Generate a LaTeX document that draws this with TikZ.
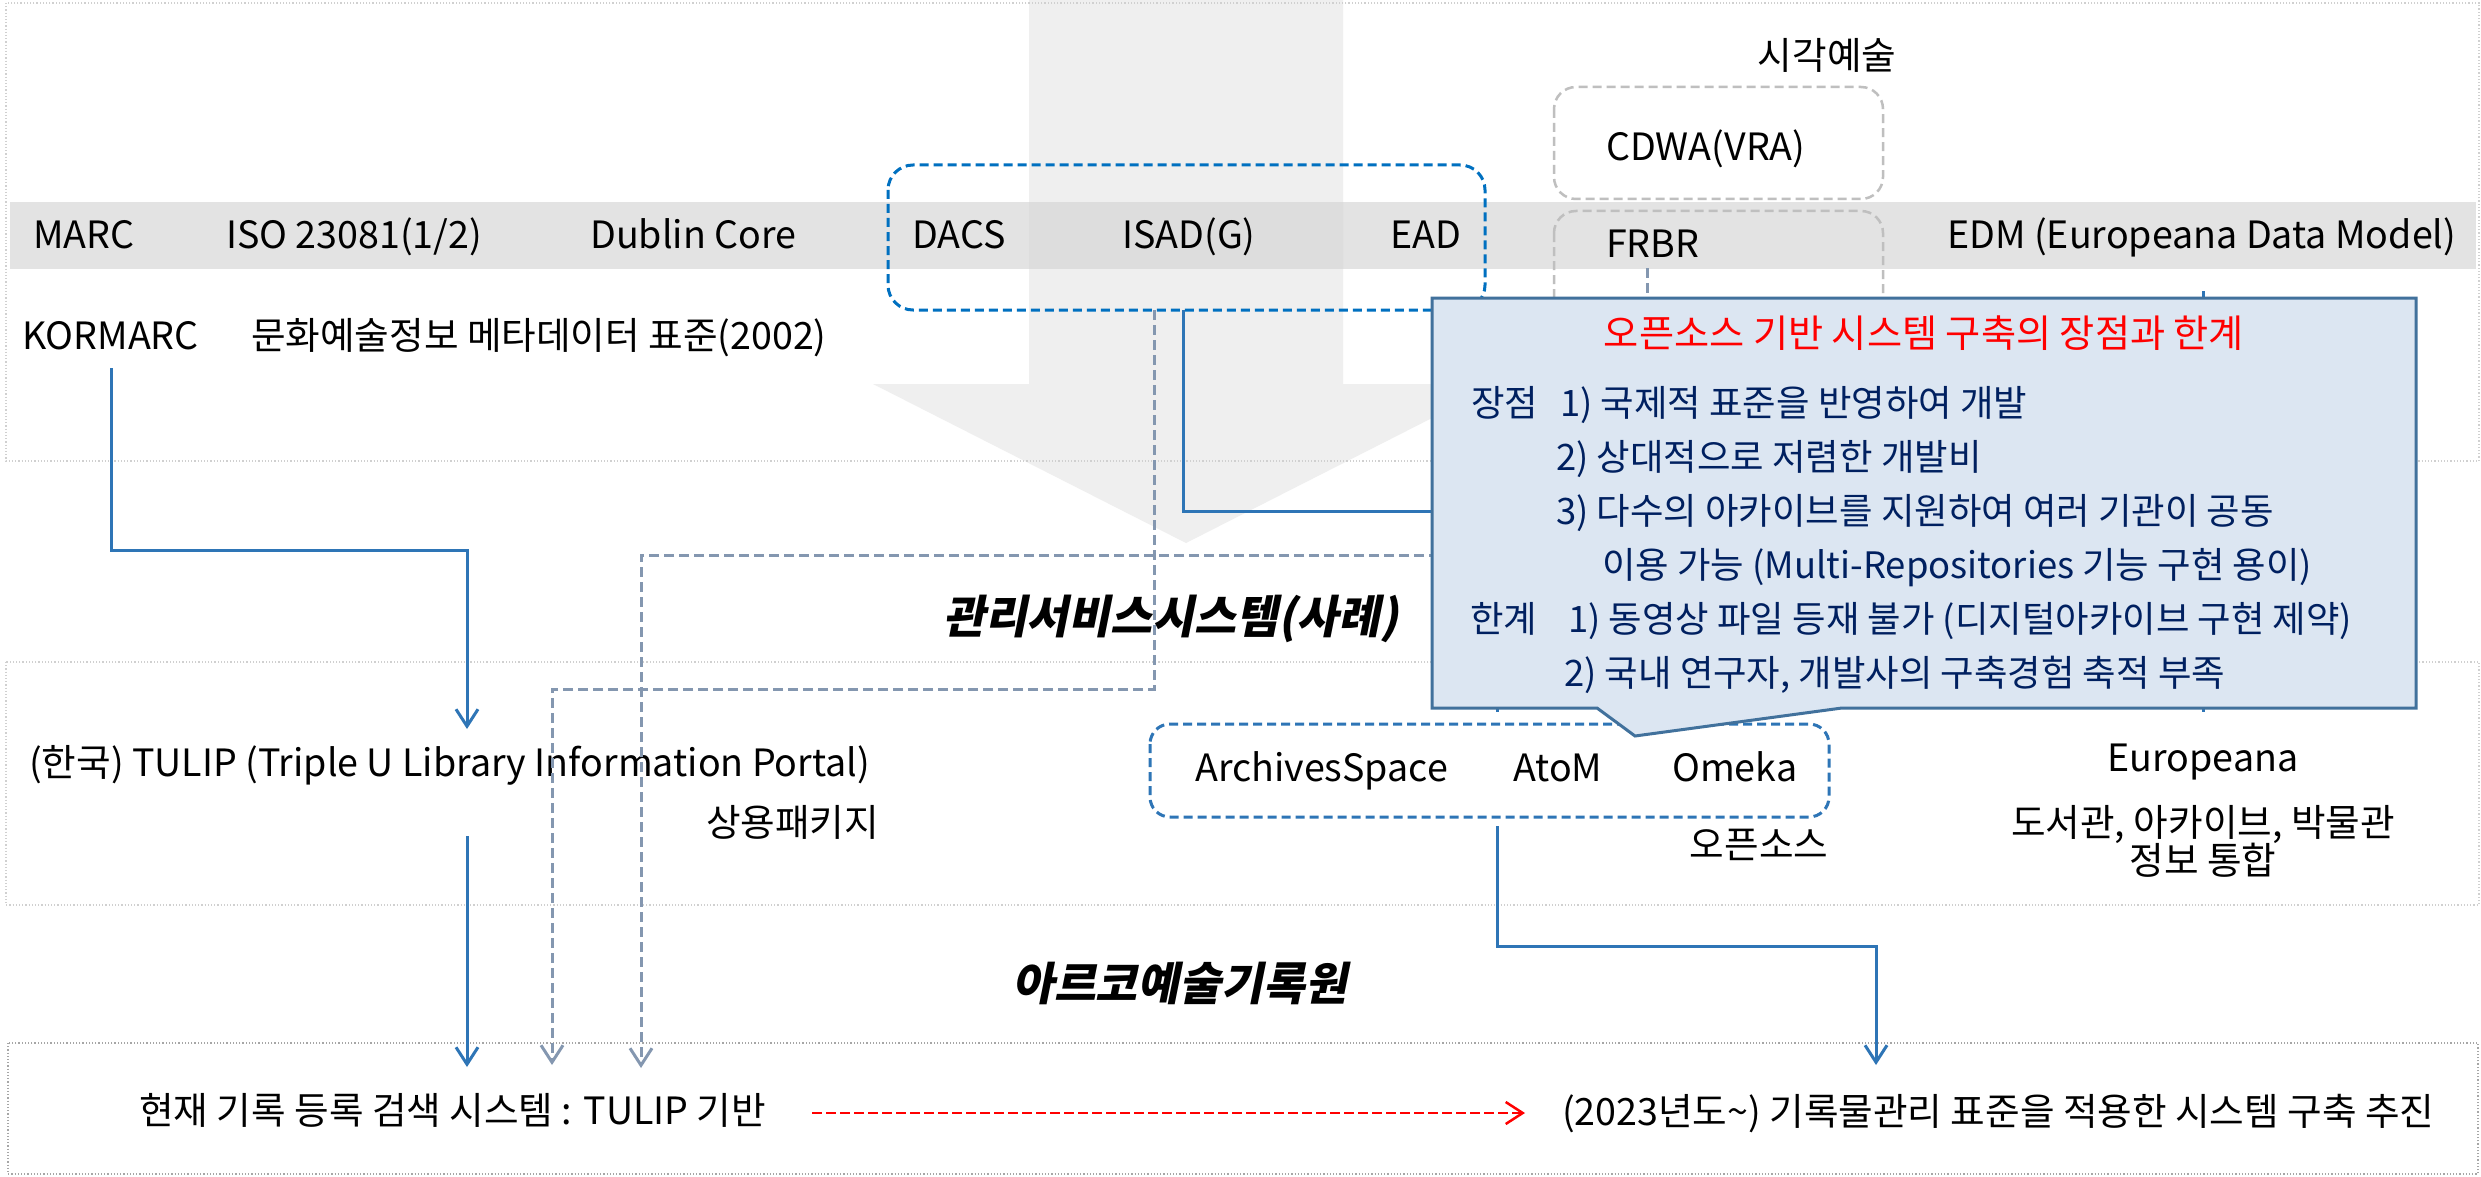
\documentclass[tikz,border=0pt]{standalone}
\usepackage{fontspec}
\setmainfont{Noto Sans CJK KR}
\newfontfamily\krslant{Noto Sans CJK KR}[FakeSlant=0.2]
\usetikzlibrary{arrows.meta}
\definecolor{lineblue}{HTML}{2E75B6}
\definecolor{boxblue}{HTML}{0070C0}
\definecolor{slate}{HTML}{8497B0}
\definecolor{boxgray}{HTML}{BFBFBF}
\definecolor{calloutfill}{HTML}{DCE6F2}
\definecolor{calloutline}{HTML}{41719C}
\definecolor{navy}{HTML}{002060}
\definecolor{arrowgray}{HTML}{EFEFEF}
\definecolor{bandgray}{HTML}{D4D4D4}
\definecolor{panelgray}{HTML}{D0D0D0}
\definecolor{panelgraydark}{HTML}{A6A6A6}
\tikzset{
  t/.style={inner sep=0pt, font=\fontsize{37.6}{44}\selectfont, text=black},
  ct/.style={inner sep=0pt, font=\fontsize{36.4}{42}\selectfont, text=navy},
  captxt/.style={inner sep=0pt, font=\krslant\bfseries\fontsize{45.5}{52}\selectfont, text=black},
  conn/.style={draw=lineblue, line width=3pt},
  dconn/.style={draw=slate, line width=3pt, dash pattern=on 10pt off 5pt},
  rconn/.style={draw=red, line width=2.5pt, dash pattern=on 10pt off 4pt},
  tip/.style={-{Straight Barb[length=17pt,width=22pt]}},
  panelline/.style={draw=panelgray, line width=1.2pt, dotted},
  bluebox/.style={draw=boxblue, line width=3pt, dash pattern=on 9pt off 5pt, rounded corners=25pt},
  graybox/.style={draw=boxgray, line width=2.5pt, dash pattern=on 9pt off 5pt, rounded corners=22pt},
  archbox/.style={draw=lineblue, line width=3pt, dash pattern=on 9pt off 5pt, rounded corners=20pt},
}
\begin{document}
\begin{tikzpicture}[x=1pt,y=-1pt]
\useasboundingbox (0,0) rectangle (2481,1177);
\fill[white] (0,0) rectangle (2481,1177);

% big background arrow
\fill[arrowgray] (1029,0) -- (1343,0) -- (1343,384) -- (1499,384) -- (1186,543) -- (873,384) -- (1029,384) -- cycle;
% standards band
\fill[bandgray, opacity=0.65] (10,202) rectangle (2476,269);

% panels
\draw[panelline] (6,3) rectangle (2479,461);
\draw[panelline] (6,662) rectangle (2479,905);
\draw[draw=panelgraydark, line width=1.2pt, dotted] (8,1043) rectangle (2478,1174);

% dashed boxes
\draw[graybox] (1554,87) rectangle (1883,199);
\draw[graybox] (1554,211) rectangle (1883,360);
\draw[bluebox] (888,165) rectangle (1485,310);
\draw[archbox] (1150,724) rectangle (1829,817);

% band texts
\node[t, anchor=base west] (marc) at (33,248) {MARC};
\node[t, anchor=base west] (iso) at (226,248) {ISO 23081(1/2)};
\node[t, anchor=base west] (dc) at (590,248) {Dublin Core};
\node[t, anchor=base west] (dacs) at (912,248) {DACS};
\node[t, anchor=base west] (isad) at (1122,248) {ISAD(G)};
\node[t, anchor=base west] (ead) at (1390,248) {EAD};
\node[t, anchor=base west] (frbr) at (1606,258) {FRBR};
\node[t, anchor=base west] (edm) at (1947,248) {EDM (Europeana Data Model)};
\node[t, anchor=base west] (kormarc) at (22,349) {KORMARC};
\node[t, anchor=base west] (kstd) at (251,349) {문화예술정보 메타데이터 표준(2002)};
\node[t, anchor=base] (visart) at (1827,70) {시각예술};
\node[t, anchor=base west] (cdwa) at (1606,161) {CDWA(VRA)};

% middle texts
\node[t, anchor=base west] (tulip) at (29,776) {(한국) TULIP (Triple U Library Information Portal)};
\node[t, anchor=base west] (comm) at (706,836) {상용패키지};
\node[t, anchor=base west] (aspace) at (1195,781) {ArchivesSpace};
\node[t, anchor=base west] (atom) at (1513,781) {AtoM};
\node[t, anchor=base west] (omeka) at (1672,781) {Omeka};
\node[t, anchor=base] (oss) at (1759,858) {오픈소스};
\node[t, anchor=base] (europeana) at (2203,771) {Europeana};
\node[t, anchor=base] (eurodesc1) at (2203,836) {도서관, 아카이브, 박물관};
\node[t, anchor=base] (eurodesc2) at (2203,874) {정보 통합};
\node[captxt, anchor=base west] (capsys) at (943,633) {관리서비스시스템(사례)};
\node[captxt, anchor=base west] (caparko) at (1012,1000) {아르코예술기록원};

% bottom texts
\node[t, anchor=base west] (cur) at (139,1124) {현재 기록 등록 검색 시스템 : TULIP 기반};
\node[t, anchor=base west] (new) at (1562,1125) {(2023년도\textasciitilde) 기록물관리 표준을 적용한 시스템 구축 추진};

% connector anchor points
\coordinate (kormA) at (111,368);
\coordinate (tulipTop) at (467,729);
\coordinate (tulipA) at (467,836);
\coordinate (curTop) at (467,1067);
\coordinate (isadA) at (1154,310);
\coordinate (isadB) at (1183,310);
\coordinate (frbrA) at (1647,268);
\coordinate (edmA) at (2203,291);
\coordinate (archA) at (1497,826);
\coordinate (redA) at (812,1113);
\coordinate (redB) at (1525,1113);

\draw[conn, tip] (kormA) |- (467,550) -- (tulipTop);
\draw[conn, tip] (tulipA) -- (curTop);
\draw[dconn, tip] (isadA) |- (552,689) -- (552,1065);
\draw[dconn, tip] (frbrA) |- (641,555) -- (641,1068);
\draw[conn] (isadB) |- (1497,511) -- (1497,712);
\draw[conn] (edmA) -- (2203,712);
\draw[conn, tip] (archA) |- (1876,946) -- (1876,1065);
\draw[rconn, tip] (redA) -- (redB);

% callout
\path[draw=calloutline, fill=calloutfill, line width=3pt, line join=miter]
  (1432,298) -- (2416,298) -- (2416,708) -- (1842,708) -- (1635,736) -- (1597,708) -- (1432,708) -- cycle;
\node[inner sep=0pt, font=\fontsize{38.2}{44}\selectfont, text=red, anchor=base] (ctitle) at (1924,347) {오픈소스 기반 시스템 구축의 장점과 한계};
\node[ct, anchor=base west] (pros) at (1471,416) {장점};
\node[ct, anchor=base west] (pro1) at (1560,416) {1) 국제적 표준을 반영하여 개발};
\node[ct, anchor=base west] (pro2) at (1556,470) {2) 상대적으로 저렴한 개발비};
\node[ct, anchor=base west] (pro3) at (1556,524) {3) 다수의 아카이브를 지원하여 여러 기관이 공동};
\node[ct, anchor=base west] (pro3b) at (1602,578) {이용 가능 (Multi-Repositories 기능 구현 용이)};
\node[ct, anchor=base west] (cons) at (1470,632) {한계};
\node[ct, anchor=base west] (con1) at (1568,632) {1) 동영상 파일 등재 불가 (디지털아카이브 구현 제약)};
\node[ct, anchor=base west] (con2) at (1564,686) {2) 국내 연구자, 개발사의 구축경험 축적 부족};
\end{tikzpicture}
\end{document}
